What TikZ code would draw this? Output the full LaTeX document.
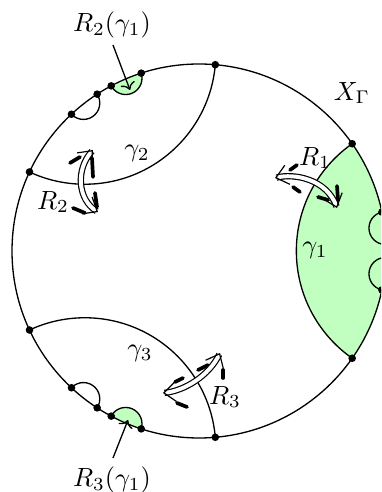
\documentclass[tikz,border=0pt]{standalone}
\usetikzlibrary{arrows.meta}
\definecolor{lgreen}{RGB}{192,255,192}
\newcommand\geopath[3][]{%
  \pgfmathsetmacro\gm{(#2+#3)/2}%
  \pgfmathsetmacro\gd{187/cos((#3-#2)/2)}%
  \pgfmathsetmacro\gr{187*tan((#3-#2)/2)}%
  \path[#1] (\gm:\gd) circle[radius=\gr];}
\begin{document}
\begin{tikzpicture}[x=0.38pt,y=0.38pt,line width=0.5pt,
  refl/.style={double=white,line width=0.45pt,double distance=1.5pt,
    {Straight Barb[length=4.5pt,width=7.5pt]}-{Straight Barb[length=4.5pt,width=7.5pt]}},
  barb/.style={line width=1.4pt,line cap=round},
  lbl/.style={inner sep=1pt}]
\clip (-199,-241) rectangle (182,251);
% green regions
\begin{scope}
  \clip (0,0) circle[radius=187];
  \geopath[fill=lgreen]{-35}{35}
  \geopath[fill=lgreen]{108}{118}
  \geopath[fill=lgreen]{242}{252}
\end{scope}
% boundary
\draw (0,0) circle[radius=187];
% geodesics
\begin{scope}
  \clip (0,0) circle[radius=187];
  \geopath[draw]{-35}{35}
  \geopath[draw]{85}{155}
  \geopath[draw]{205}{275}
  \geopath[draw]{123}{133}
  \geopath[draw]{108}{118}
  \geopath[draw]{227}{237}
  \geopath[draw]{242}{252}
  \geopath[draw]{2}{12}
  \geopath[draw]{-12}{-2}
\end{scope}
% dots
\foreach \a in {85,155,205,275,35,-35,123,133,108,118,227,237,242,252,12,-12,2,-2}
  \fill (\a:187) circle[radius=3.8];
% labels
\node[lbl] (xg) at (153,158) {$X_\Gamma$};
\node[lbl] (g1) at (116,1) {$\gamma_1$};
\node[lbl] (g2) at (-62,98) {$\gamma_2$};
\node[lbl] (g3) at (-59,-102) {$\gamma_3$};
\node[lbl] (r1) at (116,93) {$R_1$};
\node[lbl] (r2) at (-146,49) {$R_2$};
\node[lbl] (r3) at (26,-146) {$R_3$};
\node[lbl] (r2g) at (-87,226) {$R_2(\gamma_1)$};
\node[lbl] (r3g) at (-87,-229) {$R_3(\gamma_1)$};
\coordinate (r2gs) at (-86,206);
\coordinate (r2gt) at (-69,161);
\coordinate (r3gs) at (-86,-207);
\coordinate (r3gt) at (-71,-169);
\draw[->] (r2gs) -- (r2gt);
\draw[->] (r3gs) -- (r3gt);
% reflection arrows
\coordinate (a2s) at (-106,101);
\coordinate (a2e) at (-101,39);
\draw[barb] (-129,88) -- (-119,94);
\draw[barb] (-107,93) -- (-106,74);
\draw[barb] (-104,58) -- (-102,44);
\draw[barb] (-126,43) -- (-114,38);
\draw[refl] (a2s) .. controls (-124,81) and (-121,51) .. (a2e);
\coordinate (a1s) at (76,73);
\coordinate (a1e) at (138,43);
\draw[barb] (91,81) -- (98,86);
\draw[barb] (94,64) -- (101,59);
\draw[barb] (119,54) -- (129,51);
\draw[barb] (138,65) -- (139,51);
\draw[refl] (a1s) .. controls (95,78) and (128,72) .. (a1e);
\coordinate (a3s) at (-36,-142);
\coordinate (a3e) at (21,-102);
\draw[barb] (-1,-119) -- (9,-114);
\draw[barb] (24,-119) -- (24,-127);
\draw[barb] (-24,-131) -- (-16,-127);
\draw[barb] (-22,-152) -- (-12,-156);
\draw[refl] (a3s) .. controls (-15,-140) and (10,-125) .. (a3e);
\end{tikzpicture}
\end{document}
